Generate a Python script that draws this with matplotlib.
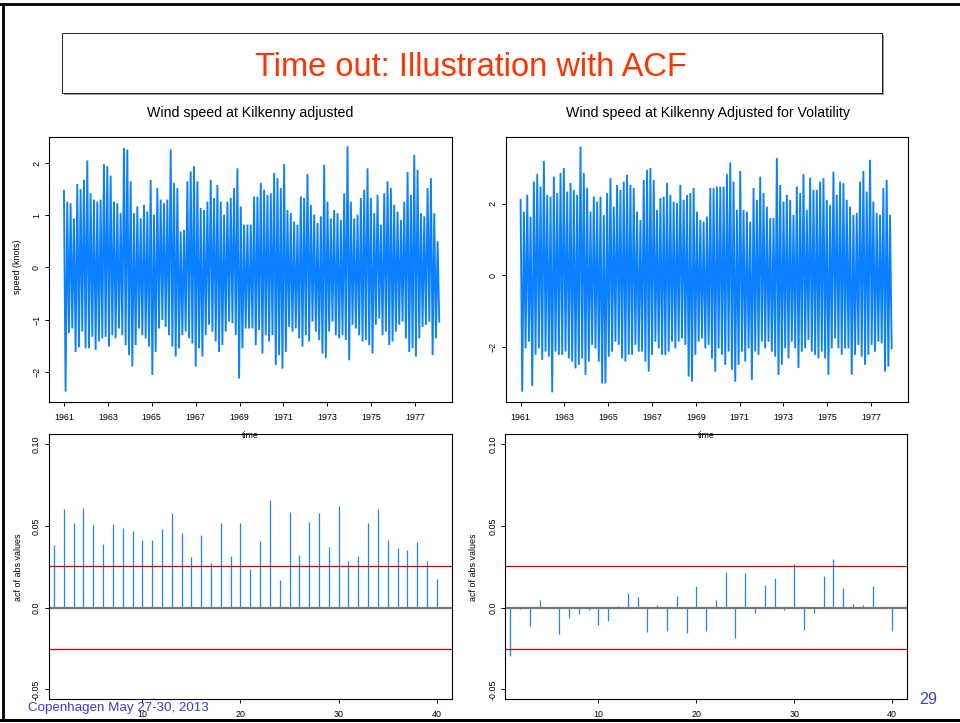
import numpy as np
import matplotlib
matplotlib.use('Agg')
import matplotlib.pyplot as plt
from matplotlib.lines import Line2D
from matplotlib.patches import Rectangle

plt.rcParams['font.family'] = ['Liberation Sans', 'DejaVu Sans']
plt.rcParams['path.simplify'] = False

W, H = 960, 723

# highs / lows of the daily series, one pair every 0.152 year from 1961
step = 0.152
adj_hi = [1.47, 1.26, 1.23, 0.94, 1.60, 1.50, 1.68, 2.05, 1.42, 1.30, 1.26, 1.30, 1.98, 1.94, 1.76,
          1.26, 1.23, 1.04, 2.29, 2.26, 1.65, 1.04, 1.17, 0.94, 1.20, 1.07, 1.68, 1.01, 1.52, 1.30,
          1.23, 1.30, 2.26, 1.62, 1.52, 0.69, 0.72, 1.65, 1.84, 1.94, 1.65, 1.14, 1.10, 1.26, 1.68,
          1.33, 1.58, 1.26, 1.01, 1.26, 1.33, 1.52, 1.90, 1.17, 0.82, 0.82,
          0.82, 1.36, 1.36, 1.62, 1.49, 1.39, 1.42, 1.81, 1.71, 1.52, 1.98, 1.10, 1.04, 0.88, 0.82,
          1.36, 1.33, 1.79, 1.20, 1.01, 0.85, 0.98, 1.97, 1.26, 0.94, 1.10, 1.04, 0.91, 1.42, 2.32,
          1.26, 0.94, 1.01, 1.33, 1.49, 1.90, 1.33, 1.04, 1.39, 0.82, 1.42, 1.65, 1.52, 1.20, 1.07,
          0.91, 1.26, 1.83, 1.39, 2.16, 1.87, 1.04, 0.98, 1.52, 1.71, 1.04, 0.50]
adj_lo = [-2.38, -1.26, -1.17, -1.62, -1.53, -1.23, -1.55, -1.55, -1.33, -1.58, -1.42, -1.36, -1.33,
          -1.52, -1.30, -1.36, -1.17, -1.30, -1.49, -1.68, -1.90, -1.49, -1.17, -1.30, -1.36, -1.52,
          -2.06, -1.62, -1.17, -1.01, -1.14, -1.30, -1.52, -1.71, -1.55, -1.30, -1.23, -1.36, -1.46,
          -1.90, -1.55, -1.71, -1.30, -1.10, -1.23, -1.42, -1.62, -1.49, -1.23, -1.04, -1.07, -1.30,
          -2.13, -1.55, -1.17, -1.17,
          -1.17, -1.49, -1.20, -1.65, -1.30, -1.42, -1.30, -1.87, -1.68, -1.94, -1.62, -1.14, -1.23,
          -1.17, -1.36, -1.52, -1.30, -1.42, -1.04, -1.23, -1.39, -1.65, -1.74, -1.23, -1.04, -1.30,
          -1.36, -1.30, -1.39, -1.78, -1.10, -1.17, -1.30, -1.42, -1.39, -1.49, -1.65, -1.10, -0.98,
          -1.30, -1.23, -1.49, -1.42, -1.23, -1.10, -1.04, -1.36, -1.62, -1.55, -1.71, -1.36, -1.14,
          -1.10, -1.04, -1.68, -1.36, -1.04]
vol_hi = [2.11, 1.78, 2.25, 1.64, 2.62, 2.83, 2.48, 3.20, 2.25, 2.20, 2.76, 2.30, 2.86, 3.00, 2.34,
          2.58, 2.39, 2.25, 3.60, 2.86, 2.44, 1.78, 2.20, 2.06, 2.20, 1.69, 2.30, 2.72, 1.92, 2.53,
          2.39, 2.62, 2.81, 2.53, 2.44, 1.78, 1.55, 2.67, 2.95, 3.00, 2.67, 1.83, 2.16, 2.20, 2.58,
          2.25, 2.06, 2.02, 2.53, 2.11, 2.25, 2.30, 2.44, 1.78, 1.55, 1.50,
          1.64, 2.44, 2.44, 2.48, 2.48, 2.48, 2.83, 3.16, 2.62, 1.83, 2.92, 1.83, 1.78, 1.50, 2.44,
          2.11, 2.76, 2.30, 1.92, 1.60, 1.60, 3.28, 2.53, 2.06, 2.25, 2.11, 1.69, 2.48, 2.30, 2.83,
          1.83, 2.73, 2.39, 2.39, 2.62, 2.72, 2.11, 1.97, 2.90, 2.25, 2.62, 2.58, 2.11, 1.92, 1.69,
          1.74, 2.62, 2.92, 2.34, 3.23, 2.06, 1.74, 1.69, 2.44, 2.67, 1.69]
vol_lo = [-3.26, -2.05, -1.86, -3.10, -2.23, -2.05, -2.37, -2.14, -2.28, -3.28, -2.14, -2.23, -2.23,
          -2.14, -2.33, -2.42, -2.61, -2.51, -2.33, -2.79, -2.42, -1.95, -2.05, -2.42, -3.03, -3.03,
          -2.28, -2.14, -1.86, -1.95, -2.33, -2.42, -2.23, -2.23, -1.95, -2.14, -2.14, -2.42, -2.70,
          -2.23, -1.86, -2.05, -2.23, -2.23, -2.14, -1.86, -2.05, -1.86, -1.77, -1.95, -2.84, -2.98,
          -2.23, -1.86, -1.77, -2.05,
          -1.95, -2.33, -2.70, -2.05, -2.23, -2.51, -2.14, -2.65, -2.98, -2.51, -2.14, -2.42, -2.05,
          -2.93, -2.14, -2.23, -1.86, -2.05, -1.86, -2.14, -2.28, -2.79, -2.51, -2.05, -2.33, -1.86,
          -2.05, -2.60, -2.14, -2.05, -1.81, -2.14, -2.23, -2.33, -2.14, -2.33, -2.79, -2.05, -1.77,
          -2.05, -2.23, -2.05, -2.05, -2.79, -2.23, -1.95, -2.28, -2.51, -2.23, -1.95, -2.14, -1.86,
          -1.91, -2.70, -2.56, -2.05]

year_ticks = list(range(1961, 1978, 2))

# acf of |x| at lags 1..40
lags = np.arange(1, 41)
acf_adj = [0.0384, 0.0604, 0.0520, 0.0610, 0.0506, 0.0392, 0.0510, 0.0490, 0.0469, 0.0416,
           0.0416, 0.0482, 0.0578, 0.0457, 0.0312, 0.0447, 0.0271, 0.0520, 0.0318, 0.0520,
           0.0239, 0.0406, 0.0659, 0.0169, 0.0586, 0.0320, 0.0524, 0.0580, 0.0373, 0.0620,
           0.0284, 0.0318, 0.0520, 0.0604, 0.0416, 0.0365, 0.0355, 0.0402, 0.0288, 0.0176]
acf_vol = [-0.0296, -0.0010, -0.0114, 0.0045, 0.0003, -0.0159, -0.0061, -0.0041, -0.0016, -0.0104,
           -0.0084, 0.0010, 0.0090, 0.0067, -0.0147, 0.0018, -0.0141, 0.0069, -0.0157, 0.0135,
           -0.0143, 0.0045, 0.0220, -0.0184, 0.0212, -0.0035, 0.0139, 0.0182, -0.0016, 0.0269,
           -0.0137, -0.0035, 0.0196, 0.0300, 0.0122, 0.0024, 0.0018, 0.0135, 0.0004, -0.0145]
conf = 0.0254

blue = '#0a80ff'
bar_blue = '#1786ff'
foot_blue = '#3b3bd2'


def fx(x):
    return x / W


def fy(y):
    return 1 - y / H


def axbox(x0, y0, x1, y1):
    return [fx(x0), fy(y1), (x1 - x0) / W, (y1 - y0) / H]


def r_style(ax):
    for s in ax.spines.values():
        s.set_linewidth(0.8)
    ax.tick_params(direction='out', length=3.2, width=0.7, labelsize=6.4)
    ax.tick_params(axis='x', pad=4.5)
    ax.tick_params(axis='y', pad=2.5, labelrotation=90)
    plt.setp(ax.get_yticklabels(), va='center')


def zigzag(hi, lo):
    # peak then trough within each step, like a dense daily line
    t = 1961 + np.arange(len(hi)) * step
    x = np.empty(2 * len(hi))
    y = np.empty(2 * len(hi))
    x[0::2] = t
    x[1::2] = t + step / 2
    y[0::2] = hi
    y[1::2] = lo
    return x, y


def series_panel(rect, hi, lo, yticks, ylim):
    ax = fig.add_axes(rect)
    x, y = zigzag(hi, lo)
    ax.plot(x, y, color=blue, lw=1.35, solid_joinstyle='miter')
    ax.set_xlim(1960.32, 1978.68)
    ax.set_ylim(*ylim)
    ax.set_xticks(year_ticks)
    ax.set_yticks(yticks)
    r_style(ax)
    return ax


def acf_panel(rect, vals):
    ax = fig.add_axes(rect)
    ax.vlines(lags, 0, vals, color=bar_blue, lw=0.9)
    ax.axhline(0, color='#777777', lw=1.6)
    ax.axhline(conf, color='#cc0000', lw=0.9)
    ax.axhline(-conf, color='#cc0000', lw=0.9)
    ax.set_xlim(0.49, 41.55)
    ax.set_ylim(-0.056, 0.106)
    ax.set_xticks([10, 20, 30, 40])
    ax.set_yticks([-0.05, 0.0, 0.05, 0.10])
    ax.set_yticklabels(['-0.05', '0.0', '0.05', '0.10'])
    r_style(ax)
    return ax


fig = plt.figure(figsize=(W / 100, H / 100), dpi=100)

# slide frame
fig.add_artist(Line2D([0, 1], [fy(3.5), fy(3.5)], color='black', lw=2))
fig.add_artist(Line2D([0, 1], [fy(719.5), fy(719.5)], color='black', lw=2.2))
fig.add_artist(Line2D([fx(3.2), fx(3.2)], [fy(3.5), fy(719.5)], color='black', lw=2))

# title box with shadow
fig.add_artist(Rectangle((fx(64), fy(95)), (882 - 62) / W, (93 - 33) / H,
                         facecolor='#999999', edgecolor='none'))
fig.add_artist(Rectangle((fx(62), fy(93)), (882 - 62) / W, (93 - 33) / H,
                         facecolor='white', edgecolor='black', lw=0.6))
fig.text(fx(470.5), fy(76.5), 'Time out: Illustration with ACF', color='#ff3300',
         fontsize=23.5, ha='center', va='baseline')

ax1 = series_panel(axbox(49, 137, 452, 402), adj_hi, adj_lo, [-2, -1, 0, 1, 2], (-2.58, 2.50))
ax2 = series_panel(axbox(505.7, 137, 907.7, 402), vol_hi, vol_lo, [-2, 0, 2], (-3.55, 3.87))
ax3 = acf_panel(axbox(49, 434.3, 452, 699.3), acf_adj)
ax4 = acf_panel(axbox(505.3, 434.3, 907.3, 699.3), acf_vol)

fig.text(fx(250.5), fy(117.5), 'Wind speed at Kilkenny adjusted', fontsize=10.2,
         ha='center', va='baseline')
fig.text(fx(708), fy(117.5), 'Wind speed at Kilkenny Adjusted for Volatility', fontsize=10.2,
         ha='center', va='baseline')

fig.text(fx(17.7), fy(267), 'speed (knots)', fontsize=6.4, rotation=90, ha='center', va='center')
fig.text(fx(18.3), fy(567), 'acf of abs values', fontsize=6.4, rotation=90, ha='center', va='center')
fig.text(fx(473.5), fy(567), 'acf of abs values', fontsize=6.4, rotation=90, ha='center', va='center')
fig.text(fx(250.5), fy(436), 'time', fontsize=6.4, ha='center', va='center', zorder=10)
fig.text(fx(706.7), fy(436), 'time', fontsize=6.4, ha='center', va='center', zorder=10)

fig.text(fx(28.3), fy(710.7), 'Copenhagen May 27-30, 2013', color=foot_blue, fontsize=9.6,
         ha='left', va='baseline', zorder=10)
fig.text(fx(919), fy(704), '29', color=foot_blue, fontsize=11.6, ha='left', va='baseline')

fig.savefig('out.png', dpi=100)
